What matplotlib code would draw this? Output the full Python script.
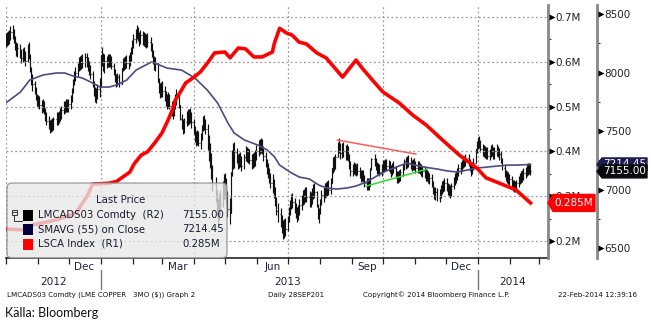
import matplotlib
matplotlib.use('Agg')
from matplotlib import pyplot as plt
import matplotlib.dates as mdates
from matplotlib.patches import FancyBboxPatch, Polygon, Rectangle
from matplotlib.lines import Line2D
from matplotlib.ticker import MultipleLocator, FuncFormatter
from matplotlib.transforms import IdentityTransform
import numpy as np
import pandas as pd

W, H = 651, 329

# LME copper 3M daily closes (R2), Fri 28 Sep 2012 then one row per week (Mon-Fri)
copper_close = [
    8290,
    8260, 8310, 8280, 8330, 8350,
    8340, 8290, 8220, 8180, 8210,
    8160, 8120, 8180, 8140, 8100,
    8230, 8150, 8010, 7930, 7900,
    7850, 7790, 7740, 7770, 7720,
    7700, 7740, 7660, 7620, 7590,
    7560, 7520, 7580, 7530, 7600,
    7620, 7590, 7650, 7630, 7680,
    7720, 7690, 7740, 7700, 7730,
    7760, 7850, 7920, 7980, 8000,
    8040, 8100, 8060, 8120, 8080,
    8130, 8090, 8060, 8020, 7990,
    7900, 7830, 7790, 7820, 7860,
    7880, 8150, 8120, 8060, 8100,
    8080, 8120, 8090, 8110, 8060,
    8000, 7950, 7920, 7960, 7900,
    8040, 8090, 8060, 8110, 8080,
    8100, 8130, 8180, 8250, 8290,
    8330, 8360, 8300, 8280, 8320,
    8270, 8310, 8250, 8290, 8260,
    8220, 8160, 8100, 8060, 8080,
    7920, 7860, 7830, 7880, 7840,
    7800, 7760, 7740, 7790, 7710,
    7680, 7660, 7720, 7780, 7800,
    7720, 7600, 7560, 7520, 7580,
    7640, 7600, 7650, 7610, 7580,
    7500, 7450, 7420, 7470, 7400,
    7430, 7540, 7590, 7560, 7520,
    7380, 7330, 7250, 7150, 7050,
    6950, 6820, 6800, 6900, 6880,
    7050, 7000, 7060, 6920, 6830,
    6800, 7150, 7300, 7270, 7320,
    7260, 7220, 7280, 7240, 7200,
    7280, 7330, 7270, 7310, 7250,
    7230, 7270, 7240, 7300, 7330,
    7380, 7350, 7400, 7330, 7290,
    7220, 7180, 7140, 7100, 7060,
    7040, 6980, 6900, 6820, 6790,
    6730, 6680, 6640, 6700, 6660,
    6760, 6820, 6870, 6920, 6890,
    6840, 6800, 6780, 6830, 6870,
    6910, 6950, 6930, 6980, 6940,
    6900, 6930, 6960, 7000, 6980,
    6860, 6760, 6800, 6910, 6950,
    6970, 7010, 6990, 7030, 7000,
    7060, 7180, 7240, 7200, 7280,
    7400, 7350, 7310, 7360, 7330,
    7300, 7340, 7280, 7200, 7160,
    7170, 7200, 7150, 7190, 7160,
    7130, 7100, 7140, 7090, 7060,
    7040, 7060, 7030, 7180, 7260,
    7240, 7200, 7170, 7190, 7150,
    7180, 7220, 7190, 7230, 7200,
    7210, 7170, 7150, 7200, 7180,
    7120, 7090, 7130, 7100, 7150,
    7190, 7240, 7210, 7260, 7230,
    7220, 7190, 7240, 7200, 7180,
    7210, 7170, 7190, 7150, 7160,
    7140, 7110, 7130, 7090, 7100,
    7050, 6990, 6950, 6980, 6930,
    6970, 7000, 7040, 7020, 7060,
    7020, 6990, 7000, 6970, 7030,
    7080, 7100, 7120, 7150, 7180,
    7190, 7220, 7250, 7230, 7270,
    7240, 7180, 7160, 7210, 7230,
    7350, 7380, 7420, 7390, 7350,
    7320, 7340, 7300, 7330, 7290,
    7310, 7350, 7320, 7300, 7330,
    7340, 7310, 7300, 7260, 7180,
    7140, 7100, 7120, 7080, 7090,
    7050, 7020, 7040, 7010, 7060,
    7080, 7110, 7100, 7130, 7140,
    7150, 7180, 7170, 7190, 7155,
]

# typical daily high-low range ($) for Sep 28 and then each week above
copper_range = [120,
                120, 120, 120, 150, 110, 110, 110, 110, 110, 120,
                120, 120, 130, 160, 110, 110, 110, 120, 120, 120,
                120, 130, 130, 130, 130, 130, 130, 130, 220, 220,
                220, 220, 130, 130, 130, 130, 130, 160, 160, 130,
                130, 130, 130, 130, 130, 130, 130, 130, 100, 100,
                100, 100, 100, 100, 100, 100, 100, 100, 100, 110,
                110, 110, 100, 100, 100, 100, 100, 100, 100, 100,
                100, 100, 100]

# SMAVG (55) on close (R2)
sma_dates = ['2012-09-28', '2012-10-02', '2012-10-15', '2012-10-24', '2012-11-06', '2012-11-19',
             '2012-11-27', '2012-12-05', '2012-12-14', '2012-12-24', '2012-12-31', '2013-01-09',
             '2013-01-16', '2013-01-26', '2013-02-04', '2013-02-19', '2013-03-06', '2013-03-20',
             '2013-04-02', '2013-04-14', '2013-04-24', '2013-05-04', '2013-05-10', '2013-05-20',
             '2013-06-02', '2013-06-11', '2013-06-18', '2013-06-23', '2013-07-03', '2013-07-12',
             '2013-07-22', '2013-07-31', '2013-08-08', '2013-08-17', '2013-08-27', '2013-09-05',
             '2013-09-15', '2013-09-25', '2013-10-04', '2013-10-14', '2013-10-24', '2013-11-01',
             '2013-11-10', '2013-11-23', '2013-12-03', '2013-12-12', '2013-12-22', '2014-01-01',
             '2014-01-10', '2014-01-20', '2014-01-30', '2014-02-08', '2014-02-21']
sma_values = [7725, 7748, 7833, 7936, 7979, 7996,
              7996, 7970, 7953, 7910, 7876, 7876,
              7893, 7936, 8021, 8090, 8038, 8021,
              7953, 7850, 7739, 7568, 7483, 7423,
              7380, 7338, 7280, 7209, 7150, 7107,
              7090, 7038, 7013, 7004, 7013, 7030,
              7064, 7115, 7158, 7192, 7226, 7209,
              7192, 7175, 7158, 7150, 7167, 7184,
              7192, 7201, 7209, 7209, 7214.45]

# LSCA Index, LME copper stocks in million tonnes (R1)
stock_dates = ['2012-09-28', '2012-10-17', '2012-10-27', '2012-11-19', '2012-12-08', '2012-12-19',
               '2012-12-24', '2013-01-09', '2013-01-16', '2013-01-29', '2013-02-02', '2013-02-09',
               '2013-02-15', '2013-02-22', '2013-03-01', '2013-03-07', '2013-03-11', '2013-03-14',
               '2013-03-19', '2013-03-24', '2013-03-31', '2013-04-07', '2013-04-14', '2013-04-21',
               '2013-05-01', '2013-05-06', '2013-05-14', '2013-05-21', '2013-05-29', '2013-06-06',
               '2013-06-16', '2013-06-18', '2013-06-23', '2013-06-30', '2013-07-05', '2013-07-12',
               '2013-07-19', '2013-07-29', '2013-08-07', '2013-08-23', '2013-09-05', '2013-09-11',
               '2013-09-21', '2013-10-01', '2013-10-17', '2013-10-30', '2013-11-12', '2013-11-28',
               '2013-12-14', '2013-12-31', '2014-01-09', '2014-01-22', '2014-02-07', '2014-02-21']
stock_values = [0.227, 0.225, 0.236, 0.247, 0.263, 0.302,
                0.327, 0.329, 0.333, 0.354, 0.372, 0.392,
                0.399, 0.419, 0.441, 0.470, 0.492, 0.515,
                0.533, 0.553, 0.564, 0.577, 0.597, 0.620,
                0.622, 0.609, 0.631, 0.629, 0.611, 0.611,
                0.622, 0.642, 0.675, 0.664, 0.660, 0.644,
                0.640, 0.620, 0.609, 0.566, 0.604, 0.586,
                0.559, 0.533, 0.508, 0.481, 0.459, 0.425,
                0.392, 0.363, 0.341, 0.329, 0.314, 0.285]

# triangle trend lines drawn on copper
trend_hi_dates = ['2013-08-18', '2013-11-02']
trend_hi_values = [7423, 7303]
trend_lo_dates = ['2013-09-15', '2013-11-13']
trend_lo_values = [7030, 7175]


def fx(x):
    return x / W


def fy(y):
    return 1 - y / H


def dn(dates):
    return mdates.date2num(pd.to_datetime(dates).to_pydatetime())


fig = plt.figure(figsize=(W / 100, H / 100), dpi=100)
fig.patch.set_facecolor('white')

ax_cu = fig.add_axes([fx(6), fy(258), fx(548) - fx(6), fy(5) - fy(258)])
ax_st = ax_cu.twinx()

ax_cu.set_xlim(dn(['2012-10-01'])[0], dn(['2014-03-10'])[0])
ax_cu.set_ylim(6415, 8577)
ax_st.set_ylim(0.162, 0.727)

# grid
grid_kw = dict(color='#9a9a9a', lw=0.9, linestyle=(0, (1.5, 2)))
for q in dn(['2012-10-01', '2013-01-01', '2013-04-01', '2013-07-01', '2013-10-01', '2014-01-01']):
    ax_cu.axvline(q, zorder=0, **grid_kw)
for v in [0.2, 0.3, 0.4, 0.5, 0.6, 0.7]:
    ax_st.axhline(v, zorder=0, **grid_kw)

# copper bars: open is the previous close, wicks from the week's typical range
days = pd.bdate_range('2012-09-28', '2014-02-21')
xd = mdates.date2num(days.to_pydatetime())
close = np.array(copper_close, dtype=float)
opens = np.r_[close[0], close[:-1]]
rng = np.r_[copper_range[0], np.repeat(copper_range[1:], 5)]
mid = (opens + close) / 2
highs = np.maximum(np.maximum(opens, close), mid + rng / 2)
lows = np.minimum(np.minimum(opens, close), mid - rng / 2)
ax_cu.vlines(xd, lows, highs, color='#111111', lw=0.85, zorder=2)
ax_cu.hlines(close, xd, xd + 0.9, color='#111111', lw=0.8, zorder=2)
ax_cu.hlines(opens, xd - 0.9, xd, color='#111111', lw=0.8, zorder=2)

ax_cu.plot(dn(sma_dates), sma_values, color='#4b4b80', lw=1.2, zorder=3)
ax_cu.plot(dn(trend_hi_dates), trend_hi_values, color='#ff5a5a', lw=1.1, zorder=3)
ax_cu.plot(dn(trend_lo_dates), trend_lo_values, color='#33d633', lw=1.1, zorder=3)

ax_st.plot(dn(stock_dates), stock_values, color='#ff0000', lw=2.6, solid_joinstyle='round', zorder=4)

# spines
for s in ['top', 'left']:
    ax_cu.spines[s].set_visible(False)
    ax_st.spines[s].set_visible(False)
ax_st.spines['bottom'].set_visible(False)
ax_cu.spines['bottom'].set_color('#222222')
ax_cu.spines['bottom'].set_linewidth(1.2)
ax_st.spines['right'].set_color('#888888')
ax_st.spines['right'].set_linewidth(2)
ax_cu.spines['right'].set_color('#888888')
ax_cu.spines['right'].set_linewidth(2)
ax_cu.spines['right'].set_position(('outward', 49 * 0.72))
ax_cu.yaxis.tick_right()

# right axes ticks
ax_st.yaxis.set_major_locator(MultipleLocator(0.1))
ax_st.yaxis.set_minor_locator(MultipleLocator(0.05))
ax_st.yaxis.set_major_formatter(FuncFormatter(lambda v, p: f'{v:.1f}M'))
ax_cu.yaxis.set_major_locator(MultipleLocator(500))
ax_cu.yaxis.set_minor_locator(MultipleLocator(250))
ax_cu.yaxis.set_major_formatter(FuncFormatter(lambda v, p: f'{v:.0f}'))
for a in (ax_st, ax_cu):
    a.tick_params(axis='y', which='major', length=0, pad=5.5, labelsize=7.5, labelcolor='#222222')
    a.tick_params(axis='y', which='minor', length=2.5, width=0.8, color='#333333')

# triangles marking the major ticks
for a, xs, ticks in ((ax_st, 551.5, [0.2, 0.3, 0.4, 0.5, 0.6, 0.7]),
                     (ax_cu, 600.5, [6500, 7000, 7500, 8000, 8500])):
    for t in ticks:
        yd = a.transData.transform((0, t))[1]
        fig.lines.append(Line2D([xs], [yd], marker='>', ms=4, color='black', mec='none',
                                transform=IdentityTransform(), zorder=2))

# x axis: month ticks, quarter month names
ax_cu.xaxis.set_minor_locator(mdates.MonthLocator())
ax_cu.xaxis.set_major_locator(mdates.MonthLocator(bymonth=[3, 6, 9, 12], bymonthday=16))
ax_cu.xaxis.set_major_formatter(mdates.DateFormatter('%b'))
ax_cu.tick_params(axis='x', which='minor', length=4, width=0.9, color='#222222')
ax_cu.tick_params(axis='x', which='major', length=0, pad=3, labelsize=7.5, labelcolor='#22223a')
ax_st.tick_params(axis='x', which='both', length=0)

# years
x_lo, x_hi = ax_cu.get_xlim()
for label, xc in (('2012', (x_lo + dn(['2013-01-01'])[0]) / 2),
                  ('2013', dn(['2013-07-01'])[0]),
                  ('2014', (dn(['2014-01-01'])[0] + x_hi) / 2)):
    xp = ax_cu.transData.transform((xc, 0))[0]
    fig.text(fx(xp), fy(282), label, ha='center', va='center', fontsize=7.6, color='#22223a')
for sep in dn(['2013-01-01', '2014-01-01']):
    xp = ax_cu.transData.transform((sep, 0))[0]
    fig.lines.append(Line2D([xp, xp], [H - 270, H - 289], color='#777777', lw=1,
                            transform=IdentityTransform()))

# footer
foot = dict(fontsize=5.1, color='#111111', va='center')
fig.text(fx(7), fy(295), 'LMCADS03 Comdty (LME COPPER   3MO ($)) Graph 2', **foot)
fig.text(fx(268), fy(295), 'Daily 28SEP201', **foot)
fig.text(fx(363), fy(295), 'Copyright\u00a9 2014 Bloomberg Finance L.P.', **foot)
fig.text(fx(558), fy(295), '22-Feb-2014 12:39:16', **foot)
fig.text(fx(5), fy(313), 'Källa: Bloomberg', family='Lato', fontsize=9, color='#111111', va='center')

# legend panel
idt = IdentityTransform()
fig.patches.append(FancyBboxPatch((7, H - 258), 220, 75, boxstyle='round,pad=0,rounding_size=5',
                                  transform=idt, fc='#e8e8e8', ec='#8a8a8a', lw=1, alpha=0.78, zorder=3))
leg = dict(fontsize=7.3, color='#1a1a2e', va='center', zorder=4)
fig.text(fx(121), fy(200), 'Last Price', ha='center', **leg)
rows = [('LMCADS03 Comdty  (R2)', f'{copper_close[-1]:.2f}', 'black', 215),
        ('SMAVG (55) on Close', f'{sma_values[-1]:.2f}', '#00003a', 229.5),
        ('LSCA Index  (R1)', f'{stock_values[-1]:.3f}M', '#ff0000', 244)]
for name, val, col, yc in rows:
    fig.patches.append(Rectangle((23, H - yc - 5.5), 10, 11, transform=idt, fc=col, ec='none', zorder=4))
    fig.text(fx(38), fy(yc), name, **leg)
    fig.text(fx(182), fy(yc), val, **leg)
fig.patches.append(Rectangle((11.5, H - 214.5), 5, 5, transform=idt, fill=False, ec='#333333', lw=0.7, zorder=4))
fig.lines.append(Line2D([12.5, 15.5], [H - 212, H - 212], color='#333333', lw=0.7, transform=idt, zorder=4))
fig.lines.append(Line2D([14, 14, 22], [H - 214.5, H - 221, H - 221], color='#333333', lw=0.7,
                        transform=idt, zorder=4))


# last value tags on the right axes; later tags sit on top of earlier ones
def tag(ax, value, x0, x1, h, color, text, z):
    yd = ax.transData.transform((0, value))[1]
    pts = [(x0, yd), (x0 + 5, yd + h / 2), (x1, yd + h / 2), (x1, yd - h / 2), (x0 + 5, yd - h / 2)]
    fig.patches.append(Polygon(pts, closed=True, transform=idt, fc=color, ec=color, zorder=z))
    fig.text(fx((x0 + 5 + x1) / 2), yd / H, text, ha='center', va='center', fontsize=7.5,
             color='white', zorder=z + 0.1)


tag(ax_st, stock_values[-1], 548, 595, 17, '#ff0000', f'{stock_values[-1]:.3f}M', 5)
tag(ax_cu, sma_values[-1], 597, 647, 13, '#1c1c4e', f'{sma_values[-1]:.2f}', 5.2)
tag(ax_cu, copper_close[-1], 597, 647, 13, '#08080f', f'{copper_close[-1]:.2f}', 5.4)

fig.savefig('out.png', dpi=100, facecolor='white')
